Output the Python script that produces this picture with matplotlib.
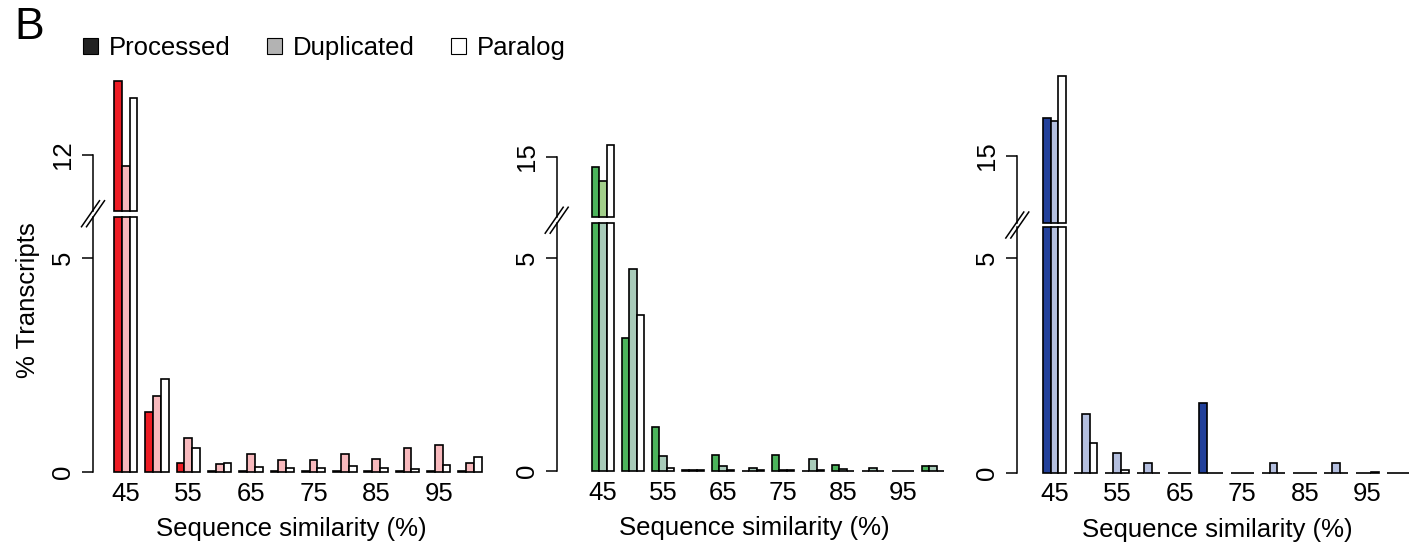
import numpy as np
import matplotlib.pyplot as plt
from matplotlib.patches import Patch
from matplotlib.lines import Line2D

plt.rcParams['font.family'] = ['Liberation Sans', 'DejaVu Sans']

# sequence similarity bins (%)
sim = [45, 50, 55, 60, 65, 70, 75, 80, 85, 90, 95, 100]
series = ['Processed', 'Duplicated', 'Paralog']

# % transcripts per bin
proc1 = [13.72, 1.40, 0.21, 0.02, 0.02, 0.02, 0.02, 0.02, 0.02, 0.03, 0.02, 0.02]
dup1 = [11.74, 1.78, 0.79, 0.19, 0.43, 0.27, 0.27, 0.41, 0.31, 0.55, 0.64, 0.20]
para1 = [13.31, 2.17, 0.56, 0.21, 0.11, 0.10, 0.10, 0.14, 0.10, 0.08, 0.17, 0.35]

proc2 = [14.75, 3.11, 1.03, 0.03, 0.38, 0.0, 0.38, 0.01, 0.13, 0.0, 0.01, 0.12]
dup2 = [14.42, 4.74, 0.35, 0.02, 0.11, 0.08, 0.02, 0.27, 0.05, 0.08, 0.01, 0.12]
para2 = [15.27, 3.66, 0.08, 0.02, 0.02, 0.02, 0.02, 0.02, 0.01, 0.01, 0.01, 0.01]

proc3 = [15.89, 0, 0, 0, 0, 1.63, 0, 0, 0, 0, 0, 0]
dup3 = [15.80, 1.36, 0.45, 0.22, 0, 0, 0, 0.22, 0, 0.22, 0, 0]
para3 = [16.86, 0.70, 0.06, 0, 0, 0, 0, 0, 0, 0, 0.01, 0]

W, H = 1409, 547
fig = plt.figure(figsize=(W / 100, H / 100), dpi=100)
FS = 18.5


def box(left, bottom, width, height):
    # pixel box (y measured from the top of the image) -> figure fraction
    return [left / W, 1 - bottom / H, width / W, height / H]


panels = [
    # data, colours, layout in pixels, axis break
    dict(vals=[proc1, dup1, para1], cols=['#ed1c24', '#f8b9bd', 'white'], upcols=None,
         spine=93, g1=114, step=31.3, y0=472, ppu=42.9, lo_top=5.95, ub_px=210.7,
         up_bot=10.69, up_top=13.85, up_tick=12),
    dict(vals=[proc2, dup2, para2], cols=['#4cb45c', '#a8cbb9', 'white'],
         upcols=['#4cb45c', '#a2cf8a', 'white'],
         spine=556.7, g1=591.7, step=30.0, y0=471, ppu=42.66, lo_top=5.81, ub_px=217.3,
         up_bot=13.58, up_top=15.4, up_tick=15),
    dict(vals=[proc3, dup3, para3], cols=['#22409a', '#b4bfdf', 'white'], upcols=None,
         spine=1017.3, g1=1042.7, step=31.3, y0=472.7, ppu=43.0, lo_top=5.72, ub_px=223.3,
         up_bot=13.43, up_top=16.95, up_tick=15),
]

x = np.arange(len(sim)) * 4

for p in panels:
    unit = p['step'] / 4
    xl = (p['spine'] - p['g1']) / unit
    xr = 48
    axw = (xr - xl) * unit
    lo_h = p['lo_top'] * p['ppu']
    ax_lo = fig.add_axes(box(p['spine'], p['y0'], axw, lo_h))
    up_h = (p['up_top'] - p['up_bot']) * p['ppu']
    ax_hi = fig.add_axes(box(p['spine'], p['ub_px'], axw, up_h))

    upcols = p['upcols'] or p['cols']
    for k, v in enumerate(p['vals']):
        v = np.array(v, dtype=float)
        ax_lo.bar(x + k, np.minimum(v, p['lo_top']), width=1, align='edge',
                  color=p['cols'][k], edgecolor='black', linewidth=1.2, clip_on=False)
        big = v > p['lo_top']
        ax_hi.bar(x[big] + k, v[big] - p['up_bot'], bottom=p['up_bot'], width=1,
                  align='edge', color=upcols[k], edgecolor='black', linewidth=1.2,
                  clip_on=False)

    for ax in (ax_lo, ax_hi):
        ax.set_xlim(xl, xr)
        for s in ('top', 'right', 'bottom'):
            ax.spines[s].set_visible(False)
        ax.spines['left'].set_linewidth(1.1)
        ax.tick_params(axis='y', length=8, width=1.1, labelsize=FS, pad=5,
                       labelrotation=90)
    ax_lo.set_ylim(0, p['lo_top'])
    ax_hi.set_ylim(p['up_bot'], p['up_top'])
    ax_lo.set_yticks([0, 5])
    ax_hi.set_yticks([p['up_tick']])
    ax_hi.spines['left'].set_bounds(p['up_bot'], p['up_tick'])
    for ax in (ax_lo, ax_hi):
        for lab in ax.get_yticklabels():
            lab.set_va('center')

    ax_hi.set_xticks([])
    ax_lo.set_xticks(x[::2] + 1.5, [str(s) for s in sim[::2]])
    ax_lo.tick_params(axis='x', length=0, labelsize=FS, pad=7)
    ax_lo.set_xlabel('Sequence similarity (%)', fontsize=FS, labelpad=8)

    # break marks on the y axis
    yc = (p['y0'] - lo_h + p['ub_px']) / 2
    for dx in (-2.5, 2.5):
        xs = [p['spine'] + dx - 9, p['spine'] + dx + 9]
        ys = [yc + 13, yc - 13]
        fig.add_artist(Line2D([a / W for a in xs], [1 - b / H for b in ys],
                              transform=fig.transFigure, color='black', lw=1.1))

fig.text(28 / W, 1 - 300 / H, '% Transcripts', rotation=90, ha='center', va='center',
         fontsize=FS)
fig.text(14 / W, 1 - 39 / H, 'B', fontsize=32, va='baseline')

handles = [Patch(facecolor=c, edgecolor='black', linewidth=0.8, label=s)
           for c, s in zip(['#222222', '#b3b3b3', 'white'], series)]
fig.legend(handles=handles, loc='center left', bbox_to_anchor=(83 / W, 1 - 48 / H),
           ncol=3, frameon=False, fontsize=FS, handlelength=0.6, handleheight=0.6,
           handletextpad=0.42, columnspacing=1.4, borderpad=0, borderaxespad=0)

fig.savefig('out.png', dpi=100)
